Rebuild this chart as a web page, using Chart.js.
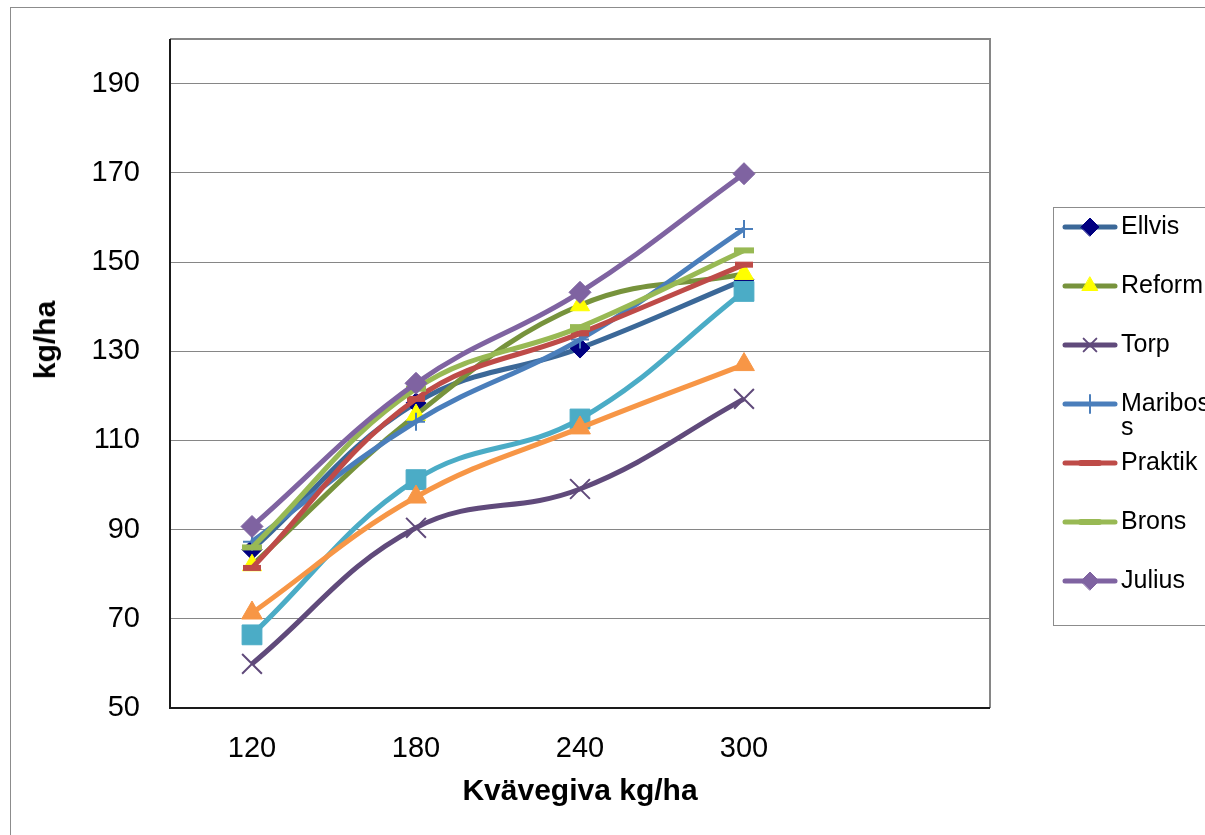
<!DOCTYPE html>
<html>
<head>
<meta charset="utf-8">
<script src="https://cdn.jsdelivr.net/npm/chart.js@4/dist/chart.umd.min.js"></script>
<style>
  body { margin: 0; background: #fff; overflow: hidden; font-family: "Liberation Sans", Arial, sans-serif; }
  #wrap { position: relative; width: 1205px; height: 835px; overflow: hidden; }
  #frame { position: absolute; left: 10px; top: 7px; width: 1300px; height: 900px; border: 1px solid #8c8c8c; }
  #chart { position: absolute; left: 0; top: 0; }
  #ytitle { position: absolute; left: 45px; top: 340px; transform: translate(-50%, -50%) rotate(-90deg);
            font-weight: bold; font-size: 30px; white-space: nowrap; color: #000; }
  #legend { position: absolute; left: 1053px; top: 207px; width: 220px; height: 417px; border: 1px solid #8c8c8c; }
  .item { position: absolute; left: 8px; height: 24px; }
  .item canvas { position: absolute; left: 0; top: 0; }
  .item span { position: absolute; left: 59px; top: -2px; font-size: 25px; line-height: 24px; white-space: nowrap; color: #000; }
</style>
</head>
<body>
<div id="wrap">
  <div id="frame"></div>
  <canvas id="chart" width="1205" height="835"></canvas>
  <div id="ytitle">kg/ha</div>
  <div id="legend"></div>
</div>
<script>
// x categories (last one is the empty slot Excel leaves on the axis)
const categories = ['120', '180', '240', '300', ''];
const yTicks = [50, 70, 90, 110, 130, 150, 170, 190];

// values
const ellvis   = [85.5, 118.4, 130.7, 146.0];
const reform   = [82.0, 115.7, 140.3, 147.3];
const torp     = [59.9, 90.4, 99.1, 119.3];
const mariboss = [87.3, 114.2, 132.6, 157.4];
const praktik  = [81.4, 119.3, 134.0, 149.4];
const brons    = [86.0, 121.6, 135.4, 152.6];
const julius   = [90.7, 122.8, 143.2, 169.8];
const series8  = [66.4, 101.2, 114.8, 143.4];
const series9  = [71.3, 97.3, 112.8, 127.0];

const font = 'Liberation Sans, Arial, sans-serif';

function line(label, data, color, style, radius, fillCol, borderCol, pointBorder) {
    return {
        label: label,
        data: data,
        borderColor: color,
        borderWidth: 5,
        tension: 0.4,
        fill: false,
        pointStyle: style,
        pointRadius: radius,
        pointBackgroundColor: fillCol,
        pointBorderColor: borderCol,
        pointBorderWidth: pointBorder
    };
}

const datasets = [
    line('Ellvis', ellvis, '#3b6898', 'rectRot', 10, '#000080', '#000080', 1),
    line('Reform', reform, '#77933c', 'triangle', 11, '#ffff00', '#ffff00', 1),
    line('Torp', torp, '#604a7b', 'crossRot', 14, '#604a7b', '#604a7b', 2),
    line('Maribos s', mariboss, '#4a7ebb', 'cross', 9, '#4a7ebb', '#4a7ebb', 2),
    line('Praktik', praktik, '#be4b48', 'line', 9, '#be4b48', '#be4b48', 6),
    line('Brons', brons, '#98b954', 'line', 10, '#98b954', '#98b954', 6),
    line('Julius', julius, '#7f63a1', 'rectRot', 11, '#7f63a1', '#7f63a1', 1),
    line('', series8, '#4bacc6', 'rect', 14, '#4bacc6', '#4bacc6', 1),
    line('', series9, '#f79646', 'triangle', 12, '#f79646', '#f79646', 1)
];
// later series on top, like Excel
datasets.forEach((d, i) => { d.order = -i; });

// plot area frame: dark left/bottom, grey top/right
const plotFrame = {
    id: 'plotFrame',
    beforeDatasetsDraw(chart) {
        const a = chart.chartArea;
        const ctx = chart.ctx;
        ctx.save();
        ctx.lineWidth = 2;
        ctx.strokeStyle = '#868686';
        ctx.beginPath();
        ctx.moveTo(a.left, a.top);
        ctx.lineTo(a.right, a.top);
        ctx.lineTo(a.right, a.bottom);
        ctx.stroke();
        ctx.strokeStyle = '#1a1a1a';
        ctx.beginPath();
        ctx.moveTo(a.left, a.top);
        ctx.lineTo(a.left, a.bottom);
        ctx.lineTo(a.right, a.bottom);
        ctx.stroke();
        ctx.restore();
    }
};

const chart = new Chart(document.getElementById('chart'), {
    type: 'line',
    data: { labels: categories, datasets: datasets },
    options: {
        responsive: false,
        animation: false,
        layout: { padding: { left: 0, top: 39, right: 215, bottom: 0 } },
        plugins: { legend: { display: false }, tooltip: { enabled: false } },
        scales: {
            x: {
                offset: true,
                grid: { display: false, drawTicks: false },
                border: { display: false },
                ticks: { color: '#000', font: { family: font, size: 29 }, padding: 24, maxRotation: 0, autoSkip: false },
                title: { display: true, text: 'Kvävegiva kg/ha', color: '#000',
                         font: { family: font, size: 30, weight: 'bold' }, padding: { top: 0, bottom: 25 } },
                afterFit: s => { s.height = 127; }
            },
            y: {
                min: 50,
                max: 200,
                afterBuildTicks: s => { s.ticks = yTicks.map(v => ({ value: v })); },
                grid: { color: '#868686', lineWidth: 1, drawTicks: false },
                border: { display: false },
                ticks: { color: '#000', font: { family: font, size: 29 }, padding: 30 },
                afterFit: s => { s.width = 170; s.paddingTop = 0; s.paddingBottom = 0; }
            }
        }
    },
    plugins: [plotFrame]
});

// legend box (Excel clips it after the seventh entry)
const legend = document.getElementById('legend');
datasets.slice(0, 7).forEach((d, i) => {
    const item = document.createElement('div');
    item.className = 'item';
    item.style.top = (7 + i * 59) + 'px';
    const c = document.createElement('canvas');
    c.width = 56; c.height = 24;
    const ctx = c.getContext('2d');
    ctx.strokeStyle = d.borderColor;
    ctx.lineWidth = 5;
    ctx.lineCap = 'round';
    ctx.beginPath();
    ctx.moveTo(3, 12);
    ctx.lineTo(53, 12);
    ctx.stroke();
    ctx.fillStyle = d.pointBackgroundColor;
    ctx.strokeStyle = d.pointBorderColor;
    ctx.lineWidth = d.pointBorderWidth;
    Chart.helpers.drawPoint(ctx, { pointStyle: d.pointStyle, radius: Math.min(d.pointRadius, 9),
        rotation: 0, borderWidth: d.pointBorderWidth }, 28, 12);
    const s = document.createElement('span');
    s.innerHTML = d.label === 'Maribos s' ? 'Maribos<br>s' : d.label;
    item.appendChild(c);
    item.appendChild(s);
    legend.appendChild(item);
});
</script>
</body>
</html>
